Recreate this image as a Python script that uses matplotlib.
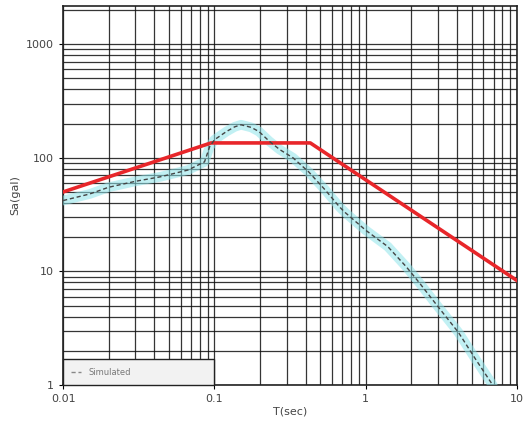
import matplotlib
matplotlib.use("Agg")
import matplotlib.pyplot as plt
from matplotlib.lines import Line2D

# Simulated response spectrum
sim_T = [0.01, 0.015, 0.02, 0.03, 0.044, 0.067, 0.086, 0.093, 0.1, 0.12, 0.136, 0.15,
         0.175, 0.197, 0.23, 0.27, 0.33, 0.42, 0.54, 0.67, 0.73, 1.0, 1.4, 1.85,
         2.25, 3.0, 4.1, 5.3, 6.9]
sim_Sa = [42, 48, 55, 62, 68, 78, 92, 125, 144, 170, 187, 195,
          185, 170, 140, 118, 100, 75, 52, 37, 33, 23, 16.5, 11,
          8, 4.9, 2.9, 1.7, 1.0]

# Design spectrum
des_T = [0.01, 0.095, 0.43, 10.0]
des_Sa = [50, 135, 135, 8.3]

x_ticks = [0.01, 0.1, 1, 10]
x_labels = ["0.01", "0.1", "1", "10"]
y_ticks = [1, 10, 100, 1000]
y_labels = ["1", "10", "100", "1000"]

fig = plt.figure(figsize=(5.26, 4.21), dpi=100)
ax = fig.add_axes([0.12, 0.0855, 0.863, 0.9])

ax.set_xscale("log")
ax.set_yscale("log")
ax.set_xlim(0.01, 10)
ax.set_ylim(1, 2160)

ax.grid(True, which="both", color="#111111", linewidth=0.9, alpha=0.85)
ax.set_axisbelow(True)

ax.plot(sim_T, sim_Sa, color="#8fe4ea", linewidth=7, alpha=0.55, solid_capstyle="round", zorder=3)
ax.plot(des_T, des_Sa, color="#e8262a", linewidth=2.6, zorder=4)
ax.plot(sim_T, sim_Sa, color="#444444", linewidth=1.0, linestyle=(0, (3, 2)), zorder=5)

ax.set_xticks(x_ticks)
ax.set_xticklabels(x_labels)
ax.set_yticks(y_ticks)
ax.set_yticklabels(y_labels)
ax.tick_params(axis="both", which="major", labelsize=8, labelcolor="#444444", length=3)
ax.tick_params(axis="both", which="minor", length=0)
for s in ax.spines.values():
    s.set_color("#222222")
    s.set_linewidth(1.2)

ax.set_xlabel("T(sec)", fontsize=8, color="#444444", labelpad=2)
ax.set_ylabel("Sa(gal)", fontsize=8, color="#444444", labelpad=4)

handle = Line2D([], [], color="#888888", linestyle=(0, (3, 2)), linewidth=1)
leg = ax.legend([handle], ["Simulated"], loc="lower left",
                bbox_to_anchor=(0.0, 0.0, 0.333, 0.1), mode="expand",
                fancybox=False, framealpha=1, edgecolor="#222222",
                fontsize=6, labelcolor="#777777", handlelength=1.2,
                borderaxespad=0, borderpad=1.0)
leg.get_frame().set_facecolor("#f2f2f2")
leg.set_zorder(10)

fig.savefig("out.png", dpi=100)
